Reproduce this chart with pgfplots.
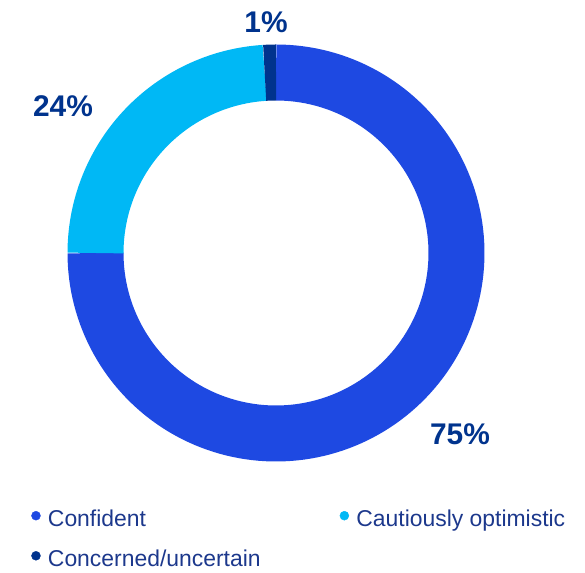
\documentclass[border=0pt]{standalone}
\usepackage{pgfplots}
\usepackage{pgfplotstable}
\pgfplotsset{compat=1.18}
\usepackage{fontspec}
\setmainfont{Liberation Sans}

\definecolor{cConf}{RGB}{30,73,226}
\definecolor{cCaut}{RGB}{0,184,245}
\definecolor{cConc}{RGB}{0,51,141}
\definecolor{labcol}{RGB}{0,51,141}
\definecolor{legcol}{RGB}{28,56,140}

% share of answers, in percent
\pgfplotstableread{
label value
Confident 75
Cautious 24
Concerned 1
}\slices

\pgfplotstablegetelem{0}{value}\of\slices \let\vA\pgfplotsretval
\pgfplotstablegetelem{1}{value}\of\slices \let\vB\pgfplotsretval
\pgfplotstablegetelem{2}{value}\of\slices \let\vC\pgfplotsretval
% angles, clockwise from 12 o'clock
\pgfmathsetmacro\aA{90}
\pgfmathsetmacro\aB{\aA-3.6*\vA}
\pgfmathsetmacro\aC{\aB-3.6*\vB}
\pgfmathsetmacro\aD{\aC-3.6*\vC}

\def\cx{276}
\def\cy{320}
\def\rm{180.5}

\begin{document}
\begin{tikzpicture}
\begin{axis}[
  scale only axis,
  width=585bp, height=573bp,
  xmin=0, xmax=585, ymin=0, ymax=573,
  hide axis, clip=false,
  legend columns=2,
  legend cell align=left,
  legend image code/.code={\fill[#1] (0bp,0.35em) circle (4.5bp);
                           \path[draw=none] (4.5bp,0.35em) -- (10bp,0.35em);},
  legend style={draw=none, fill=none,
    at={(axis description cs:0.048,0.117)}, anchor=north west,
    font=\fontsize{23}{27}\selectfont, text=legcol,
    row sep=18bp,
    /tikz/every even column/.append style={column sep=77bp}},
]
% invisible frame: keeps the page at the reference size
\addplot[forget plot, draw=none] coordinates {(0,0) (585,573)};

\addplot[forget plot, draw=cConf, line width=56bp, line cap=butt, domain=\aA:\aB, samples=150]
  ({\cx+\rm*cos(x)},{\cy+\rm*sin(x)});
\addplot[forget plot, draw=cCaut, line width=56bp, line cap=butt, domain=\aB:\aC, samples=60]
  ({\cx+\rm*cos(x)},{\cy+\rm*sin(x)});
\addplot[forget plot, draw=cConc, line width=56bp, line cap=butt, domain=\aC:\aD, samples=5]
  ({\cx+\rm*cos(x)},{\cy+\rm*sin(x)});

\addlegendimage{cConf}
\addlegendentry{Confident}
\addlegendimage{cCaut}
\addlegendentry{Cautiously optimistic}
\addlegendimage{cConc}
\addlegendentry{Concerned/uncertain}

\node[anchor=base, text=labcol, font=\bfseries\fontsize{30}{36}\selectfont] at (axis cs:266,540) {1\%};
\node[anchor=base, text=labcol, font=\bfseries\fontsize{30}{36}\selectfont] at (axis cs:63,456) {24\%};
\node[anchor=base, text=labcol, font=\bfseries\fontsize{30}{36}\selectfont] at (axis cs:460,128) {75\%};
\end{axis}
\end{tikzpicture}
\end{document}
